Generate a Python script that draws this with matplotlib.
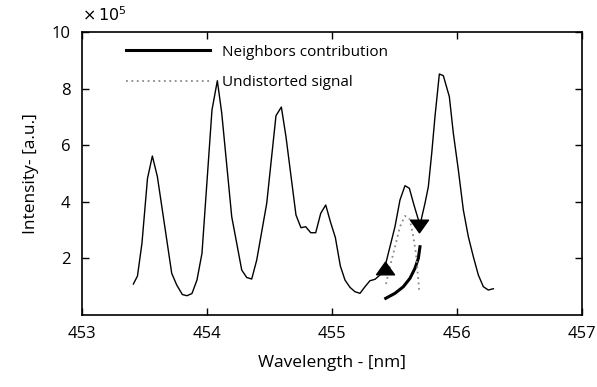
import matplotlib
matplotlib.use("Agg")
import matplotlib.pyplot as plt
from matplotlib.path import Path
from matplotlib.ticker import FuncFormatter

plt.rcParams['font.family'] = ['Open Sans', 'DejaVu Sans']

# Measured spectrum
wavelength = [453.413, 453.446, 453.482, 453.526, 453.565, 453.605, 453.720, 453.760,
              453.805, 453.842, 453.882, 453.922, 453.962, 454.042, 454.085, 454.120,
              454.200, 454.240, 454.280, 454.320, 454.360, 454.400, 454.480, 454.554,
              454.597, 454.634, 454.714, 454.754, 454.792, 454.832, 454.872, 454.912,
              454.952, 454.990, 455.029, 455.069, 455.106, 455.146, 455.186, 455.226,
              455.266, 455.306, 455.346, 455.386, 455.426, 455.466, 455.506, 455.546,
              455.586, 455.621, 455.658, 455.706, 455.746, 455.773, 455.800, 455.826,
              455.861, 455.893, 455.941, 455.973, 456.013, 456.053, 456.093, 456.133,
              456.173, 456.213, 456.253, 456.293]
intensity = [1.095, 1.378, 2.544, 4.823, 5.618, 4.894, 1.473, 1.060,
             0.724, 0.682, 0.760, 1.237, 2.180, 7.244, 8.279, 7.138,
             3.473, 2.534, 1.590, 1.325, 1.272, 1.943, 3.947, 7.042,
             7.350, 6.300, 3.534, 3.085, 3.120, 2.908, 2.908, 3.594,
             3.887, 3.286, 2.739, 1.731, 1.237, 0.979, 0.823, 0.767,
             1.000, 1.212, 1.261, 1.413, 1.707, 2.413, 3.120, 4.064,
             4.569, 4.477, 3.887, 3.180, 3.947, 4.534, 5.714, 7.007,
             8.516, 8.456, 7.714, 6.420, 5.124, 3.710, 2.767, 2.060,
             1.413, 1.000, 0.883, 0.929]

# Contribution of the neighbouring line
neigh_wl = [455.432, 455.506, 455.573, 455.626, 455.666, 455.693, 455.706]
neigh_int = [0.590, 0.767, 1.000, 1.297, 1.650, 2.004, 2.413]

# Undistorted line profile
undist_wl = [455.434, 455.466, 455.506, 455.546, 455.586, 455.621, 455.648,
             455.674, 455.688, 455.701]
undist_int = [1.095, 1.710, 2.410, 3.120, 3.500, 3.420, 2.890, 2.180, 1.470, 0.820]

# Arrow heads marking the shift
up_mark = (455.426, 1.66)
down_mark = (455.700, 3.14)

scale = 1e5
x_ticks = [453, 454, 455, 456, 457]
y_ticks = [2, 4, 6, 8, 10]

fig = plt.figure(figsize=(5.97, 3.87), dpi=100)
ax = fig.add_axes([0.1369, 0.186, 0.8375, 0.7313])

ax.plot(wavelength, [v * scale for v in intensity], color='black', lw=1.0)
ax.plot(neigh_wl, [v * scale for v in neigh_int], color='black', lw=2.2,
        label='Neighbors contribution')
ax.plot(undist_wl, [v * scale for v in undist_int], color='#8a8a8a', lw=1.3,
        linestyle=(0, (1, 2)), label='Undistorted signal')

tri_up = Path([(-1, -0.7), (1, -0.7), (0, 0.7), (-1, -0.7)])
tri_down = Path([(-1, 0.7), (1, 0.7), (0, -0.7), (-1, 0.7)])
ax.plot([up_mark[0]], [up_mark[1] * scale], marker=tri_up, ms=13, color='black',
        linestyle='none')
ax.plot([down_mark[0]], [down_mark[1] * scale], marker=tri_down, ms=13, color='black',
        linestyle='none')

ax.set_xlim(453, 457)
ax.set_ylim(0, 10 * scale)
ax.set_xticks(x_ticks)
ax.set_yticks([t * scale for t in y_ticks])
ax.yaxis.set_major_formatter(FuncFormatter(lambda v, p: f"{v / scale:g}"))
ax.text(0.0, 1.025, r'$\times\,10^5$', transform=ax.transAxes, fontsize=11.5,
        ha='left', va='bottom')

ax.tick_params(direction='in', length=5, width=1, top=True, right=True,
               labelsize=12, pad=8)
for sp in ax.spines.values():
    sp.set_linewidth(1.2)

ax.set_xlabel('Wavelength - [nm]', fontsize=12.5, labelpad=9)
ax.set_ylabel('Intensity- [a.u.]', fontsize=12.5, labelpad=9)

leg = ax.legend(loc='upper left', bbox_to_anchor=(0.0886, 0.955), frameon=False,
                fontsize=11, handlelength=5.5, handletextpad=0.75,
                labelspacing=1.0, borderpad=0, borderaxespad=0)

fig.savefig('out.png', dpi=100)
